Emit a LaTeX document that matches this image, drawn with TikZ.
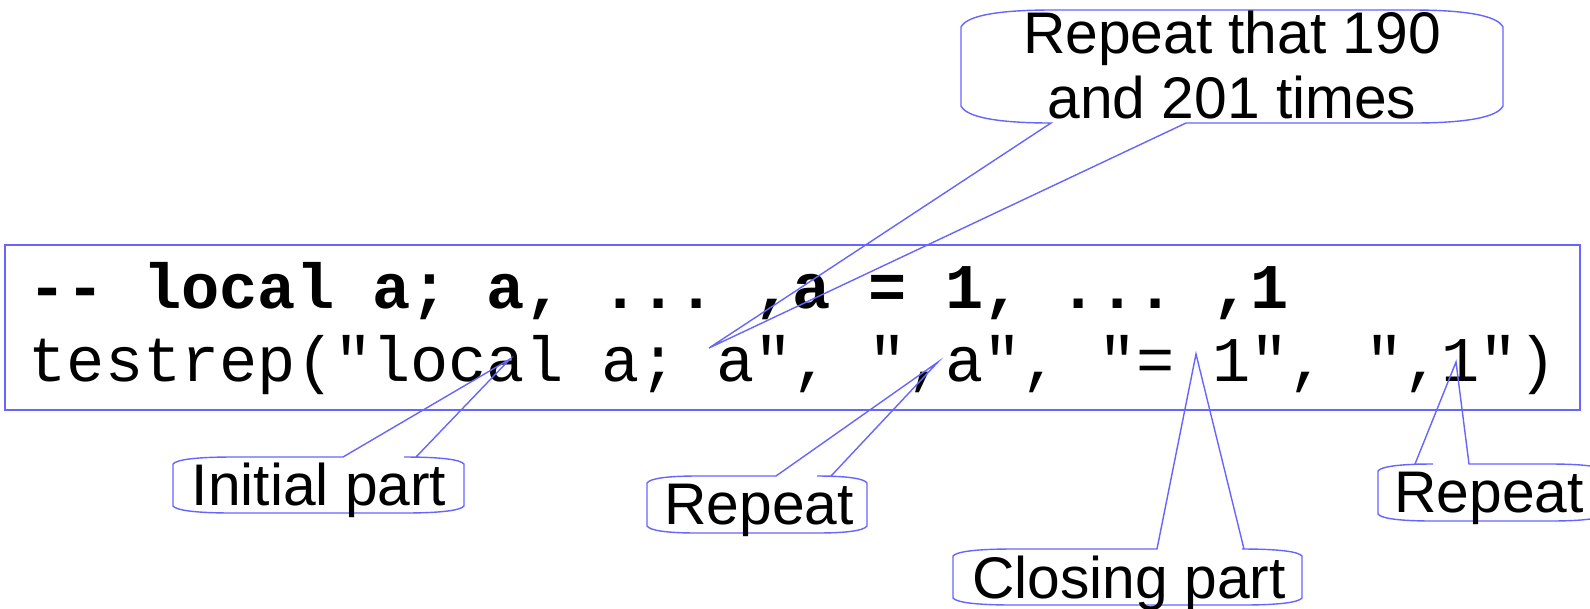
\documentclass[tikz,border=0pt]{standalone}
\usepackage{fontspec}
\setmainfont{Liberation Sans}
\setmonofont{Liberation Mono}
\usepackage{tikz}

\definecolor{lineblue}{RGB}{102,102,255}

\tikzset{
  bubble/.style={draw=lineblue, line width=0.4pt, line join=miter},
  bubbletext/.style={inner sep=0pt, anchor=base, font=\fontsize{16.7}{18.5}\selectfont},
  codeline/.style={inner sep=0pt, anchor=base west, font=\fontsize{18.1}{20.5}\selectfont\ttfamily},
}

% callout body: left, top, right, bottom, rx, ry, base 1, base 2, tip
\newcommand{\calloutup}[9]{%
  \draw[bubble] (#1,#2+#6) .. controls (#1+0.06*#5,#2+0.35*#6) and (#1+0.4*#5,#2) .. (#1+#5,#2)
    -- (#7,#2) -- (#9) -- (#8,#2) -- (#3-#5,#2)
    .. controls (#3-0.4*#5,#2) and (#3-0.06*#5,#2+0.35*#6) .. (#3,#2+#6) -- (#3,#4-#6)
    .. controls (#3-0.06*#5,#4-0.35*#6) and (#3-0.4*#5,#4) .. (#3-#5,#4) -- (#1+#5,#4)
    .. controls (#1+0.4*#5,#4) and (#1+0.06*#5,#4-0.35*#6) .. (#1,#4-#6) -- cycle;}
\newcommand{\calloutdown}[9]{%
  \draw[bubble] (#1,#2+#6) .. controls (#1+0.06*#5,#2+0.35*#6) and (#1+0.4*#5,#2) .. (#1+#5,#2)
    -- (#3-#5,#2) .. controls (#3-0.4*#5,#2) and (#3-0.06*#5,#2+0.35*#6) .. (#3,#2+#6) -- (#3,#4-#6)
    .. controls (#3-0.06*#5,#4-0.35*#6) and (#3-0.4*#5,#4) .. (#3-#5,#4)
    -- (#8,#4) -- (#9) -- (#7,#4) -- (#1+#5,#4)
    .. controls (#1+0.4*#5,#4) and (#1+0.06*#5,#4-0.35*#6) .. (#1,#4-#6) -- cycle;}

\begin{document}
\begin{tikzpicture}[x=0.01cm, y=-0.01cm]
    \useasboundingbox (0,0) rectangle (1590,608);
    \draw [bubble] (5,245) rectangle (1580,410);            % code box
    \node [codeline, font=\fontsize{18.1}{20.5}\selectfont\ttfamily\bfseries] (codetop) at (28,308)
        {-{}- local a; a, ... ,a = 1, ... ,1};
    \node [codeline] (codebot) at (28,381) {testrep("local a; a", ",a", "= 1", ",1")};
    % tips of the callouts
    \coordinate (tiprep) at (709,348);
    \coordinate (tipinit) at (510,359);
    \coordinate (tipmid) at (938,362);
    \coordinate (tipclose) at (1196,354);
    \coordinate (tipend) at (1456,362);
    % callout bodies
    \calloutdown{961}{10}{1503}{123}{90}{17}{1051}{1186}{tiprep}
    \calloutup{173}{457}{464}{513}{60}{7}{343}{416}{tipinit}
    \calloutup{647}{476}{867}{533}{50}{7}{776}{831}{tipmid}
    \calloutup{953}{549}{1302}{605}{60}{7}{1157}{1244}{tipclose}
    \calloutup{1378}{464}{1605}{521}{55}{7}{1415}{1469}{tipend}
    % callout texts
    \node [bubbletext, anchor=center, align=center] (repthat) at (1232,65) {Repeat that 190\\and 201 times};
    \node [bubbletext] (initpart) at (319,505) {Initial part};
    \node [bubbletext] (repmid) at (759,524) {Repeat};
    \node [bubbletext] (closepart) at (1129,598) {Closing part};
    \node [bubbletext] (repend) at (1489,512) {Repeat};
\end{tikzpicture}
\end{document}
